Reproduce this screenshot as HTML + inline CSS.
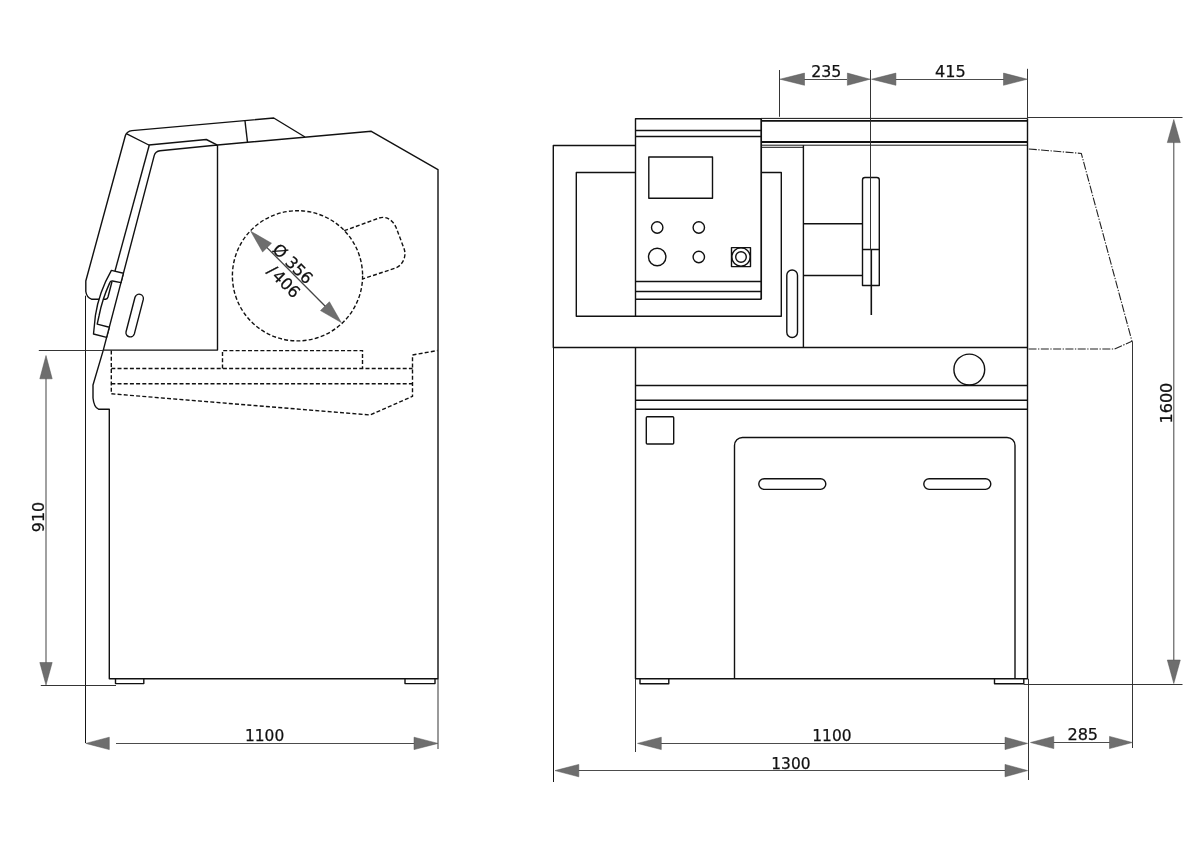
<!DOCTYPE html>
<html><head><meta charset="utf-8">
<style>
html,body{margin:0;padding:0;background:#fff;}
svg{display:block;will-change:transform;}
text{font-family:"DejaVu Sans","Liberation Sans",sans-serif;font-size:15.4px;fill:#111;stroke:#111;stroke-width:0.25px;}
.m{fill:none;stroke:#111;stroke-width:1.4;stroke-linecap:butt;stroke-linejoin:round;}
.k{fill:none;stroke:#111;stroke-width:1.9;}
.d{fill:none;stroke:#111;stroke-width:1.4;stroke-dasharray:4 2.2;}
.g{fill:none;stroke:#4c4c4c;stroke-width:1.05;}
.e{fill:none;stroke:#2a2a2a;stroke-width:0.95;}
.t{fill:none;stroke:#151515;stroke-width:1;}
.a{fill:#6e6e6e;stroke:#555;stroke-width:0.5;stroke-linejoin:miter;}
.c{fill:none;stroke:#222;stroke-width:1.1;stroke-dasharray:8 1.5 1.3 1.5;}
</style></head>
<body>
<svg width="1200" height="850" viewBox="0 0 1200 850">
<rect width="1200" height="850" fill="#fff"/>

<!-- ================= LEFT VIEW ================= -->
<g id="left">
<!-- hood outer -->
<path class="m" d="M305,137 L273.75,118 L132,130.6 Q126.8,131.2 125.4,135.5 L85.8,281 L85.8,291.5 Q86.6,297.4 91.5,299.2 L105.6,299.2 Q107.4,299 108,297 L112,281.5"/>
<path class="m" d="M245,121 L247.5,142.3"/>
<path class="m" d="M126.3,133.6 L148.8,145 L206.3,139.5 L217,144.8"/>
<path class="m" d="M149.3,145 L115,271"/>
<!-- window frame -->
<path class="m" d="M217.5,145 L160,150.8 Q155.4,151.4 154.2,155.6 L103.3,350.1 L217.5,350.1 Z"/>
<!-- main body -->
<path class="m" d="M217.5,145 L371.3,131.3 L438,169.6 L438,678.8 L109.3,678.8 L109.3,409.2 L98.5,409.2 Q94,407.5 93,398 L93,385 L103.3,350.1"/>
<!-- handle -->
<path class="m" style="fill:#fff" d="M123.4,273.2 L111.4,270.4 Q99,292 95.4,315.5 L93.5,334 L106.6,337.4 L109.3,327.2 L97.2,324.1 L99.1,315.5 Q102,300 109.8,282.6 Q110.5,280.8 112.5,281 L121,282.6 Z"/>
<!-- slot -->
<path class="m" d="M135.0,297.2 A4.3,4.3 0 0 1 143.3,299.4 L134.35,333.9 A4.3,4.3 0 0 1 126.05,331.7 Z"/>
<!-- feet -->
<path class="m" d="M115.5,678.8 V683.6 H143.8 V678.8 M405,678.8 V683.6 H435 V678.8"/>
<!-- thin front vertical -->
<path class="t" d="M85.5,295.7 V743"/>
<!-- dashed -->
<circle class="d" cx="297.5" cy="275.8" r="65.1"/>
<path class="d" d="M344.2,230.7 L379.2,218 C386,215.8 393,220 396.1,227.5 L404.1,248.7 C407,257 402,265.5 396.1,267.8 L362.8,278.9"/>
<path class="d" d="M222.5,368.5 V350.6 H362.5 V368.5"/>
<path class="d" d="M111.3,350.5 V393.8 L370,415 L412.5,396.3 V355 L437.5,350.5"/>
<path class="d" d="M111.3,368.5 H412.5 M111.3,383.8 H412.5"/>
<!-- dims -->
<path class="e" d="M38.8,350.5 H104 M40.8,685.5 H116"/>
<path class="g" d="M46,378 V663 M116,743.5 H414"/>
<path class="e" d="M438,679 V749"/>
<path class="a" d="M46,355.5 L39.8,378.8 H52.2 Z M46,685 L39.8,662.5 H52.2 Z"/>
<path class="a" d="M85.8,743.4 L109.3,737.2 V749.6 Z M438,743.4 L414,737.2 V749.6 Z"/>
<path class="g" style="stroke:#444;stroke-width:1.3" d="M266,246.6 L326,307"/>
<path class="a" d="M250.75,231.25 L271.5,243.2 L262.6,252 Z M341.25,322.5 L320.5,310.6 L329.4,301.7 Z"/>
<text x="245" y="740.6">1100</text>
<text transform="translate(43.8,532.3) rotate(-90)" style="font-size:16px">910</text>
<text transform="translate(271.5,250.5) rotate(45)" style="font-size:16.3px">Ø 356</text>
<text transform="translate(266.3,272) rotate(45)" style="font-size:16.3px">/<tspan dx="1.6">406</tspan></text>
</g>

<!-- ================= RIGHT VIEW ================= -->
<g id="right">
<!-- outer upper -->
<path class="m" d="M635.5,145.5 H553.3 V347.5 H1027.5"/>
<path class="t" d="M553.5,347.5 V782"/>
<path class="m" d="M635.5,172.5 H576.3 V316.3 H781.3 V172.5 H762"/>
<!-- panel -->
<path class="m" d="M635.5,316.3 V118.8 H761 M635.5,130.5 H761 M635.5,136.5 H761 M635.5,281.5 H761 M635.5,291.5 H761 M635.5,299.3 H761"/>
<path class="k" d="M761.2,118.4 V299.6" style="stroke-width:1.7"/>
<rect class="m" x="648.8" y="157" width="63.7" height="41.3"/>
<circle class="m" cx="657.2" cy="227.5" r="5.7"/>
<circle class="m" cx="698.8" cy="227.5" r="5.7"/>
<circle class="m" cx="657.2" cy="257" r="8.7"/>
<circle class="m" cx="698.8" cy="257" r="5.7"/>
<rect class="m" x="731.5" y="247.6" width="19" height="19"/>
<circle class="m" cx="741" cy="257" r="9.2"/>
<circle class="m" cx="741" cy="257" r="5.3"/>
<!-- rail -->
<path class="t" d="M761,118.4 H1027.5 M761,145.2 H1027.5 M761,147.3 H803.5"/>
<path class="k" d="M761,120.9 H1027.5 M761,142 H1027.5"/>
<path class="m" d="M1027.5,118.4 V678.8 H635.5 V347.5"/>
<path class="m" d="M803.4,145.2 V347.5"/>
<path class="m" d="M803.4,223.8 H862.5 M803.4,275.5 H862.5"/>
<!-- handle slot -->
<rect class="m" x="786.8" y="270" width="10.7" height="67.5" rx="5.35"/>
<!-- blade guard -->
<path class="m" d="M862.5,285.5 V180 Q862.5,177.5 865,177.5 H876.8 Q879.3,177.5 879.3,180 V285.5 Z M862.5,249.5 H879.3"/>
<path class="k" d="M871.3,249.5 V315" style="stroke-width:1.6"/>
<!-- base -->
<path class="m" d="M635.5,385.5 H1027.5 M635.5,400.3 H1027.5 M635.5,409.3 H1027.5"/>
<circle class="m" cx="969.3" cy="369.5" r="15.4"/>
<rect class="m" x="646.3" y="416.8" width="27.4" height="27.2" rx="1"/>
<path class="m" d="M734.5,678.8 V445.5 A8,8 0 0 1 742.5,437.5 H1007 A8,8 0 0 1 1015,445.5 V678.8"/>
<rect class="m" x="758.8" y="478.8" width="67" height="10.6" rx="5.3"/>
<rect class="m" x="923.8" y="478.8" width="67" height="10.6" rx="5.3"/>
<path class="m" d="M640,678.8 V683.7 H668.8 V678.8 M994.5,678.8 V683.7 H1023.8 V678.8"/>
<!-- dash-dot open hood -->
<path class="c" d="M1028.8,149 L1081.3,153.4 L1132,341.3 L1114.5,349 L1028,349"/>
<!-- dims -->
<path class="e" d="M779.5,70 V116.8 M870.5,70 V250 M1027.5,68.8 V118.4"/>
<path class="g" d="M804,79.4 H847 M895,79.4 H1004"/>
<path class="a" d="M780,79.2 L804.5,73.1 V85.3 Z M870,79.2 L847.4,73.1 V85.3 Z M871.5,79.2 L895.9,73.1 V85.3 Z M1027.3,79.2 L1003.5,73.1 V85.3 Z"/>
<path class="e" d="M1027.5,117.5 H1182.5 M1023.8,684.5 H1182.5"/>
<path class="g" d="M1173.8,142 V661"/>
<path class="a" d="M1173.8,119.5 L1167.3,142.6 H1180.3 Z M1173.8,683.5 L1167.3,660 H1180.3 Z"/>
<path class="e" d="M1132.5,341.3 V748"/>
<path class="e" d="M635.5,678.8 V752 M1028.5,678.8 V780"/>
<path class="g" d="M661,743.5 H1005 M578,770.5 H1005 M1053,742.5 H1110"/>
<path class="a" d="M637.5,743.4 L661.3,737.2 V749.6 Z M1027.6,743.4 L1005,737.2 V749.6 Z"/>
<path class="a" d="M555,770.6 L578.8,764.4 V776.8 Z M1027.6,770.6 L1005,764.4 V776.8 Z"/>
<path class="a" d="M1030.5,742.5 L1053.8,736.4 V748.6 Z M1132.3,742.5 L1109.5,736.4 V748.6 Z"/>
<text x="811.2" y="77.1" style="font-size:15.8px">235</text>
<text x="935" y="77.1" style="font-size:16.1px">415</text>
<text x="812.3" y="740.8">1100</text>
<text x="771.3" y="769.3">1300</text>
<text x="1067.4" y="740.3" style="font-size:16.1px">285</text>
<text transform="translate(1171.8,423.6) rotate(-90)" style="font-size:16.1px">1600</text>
</g>
</svg>
</body></html>
